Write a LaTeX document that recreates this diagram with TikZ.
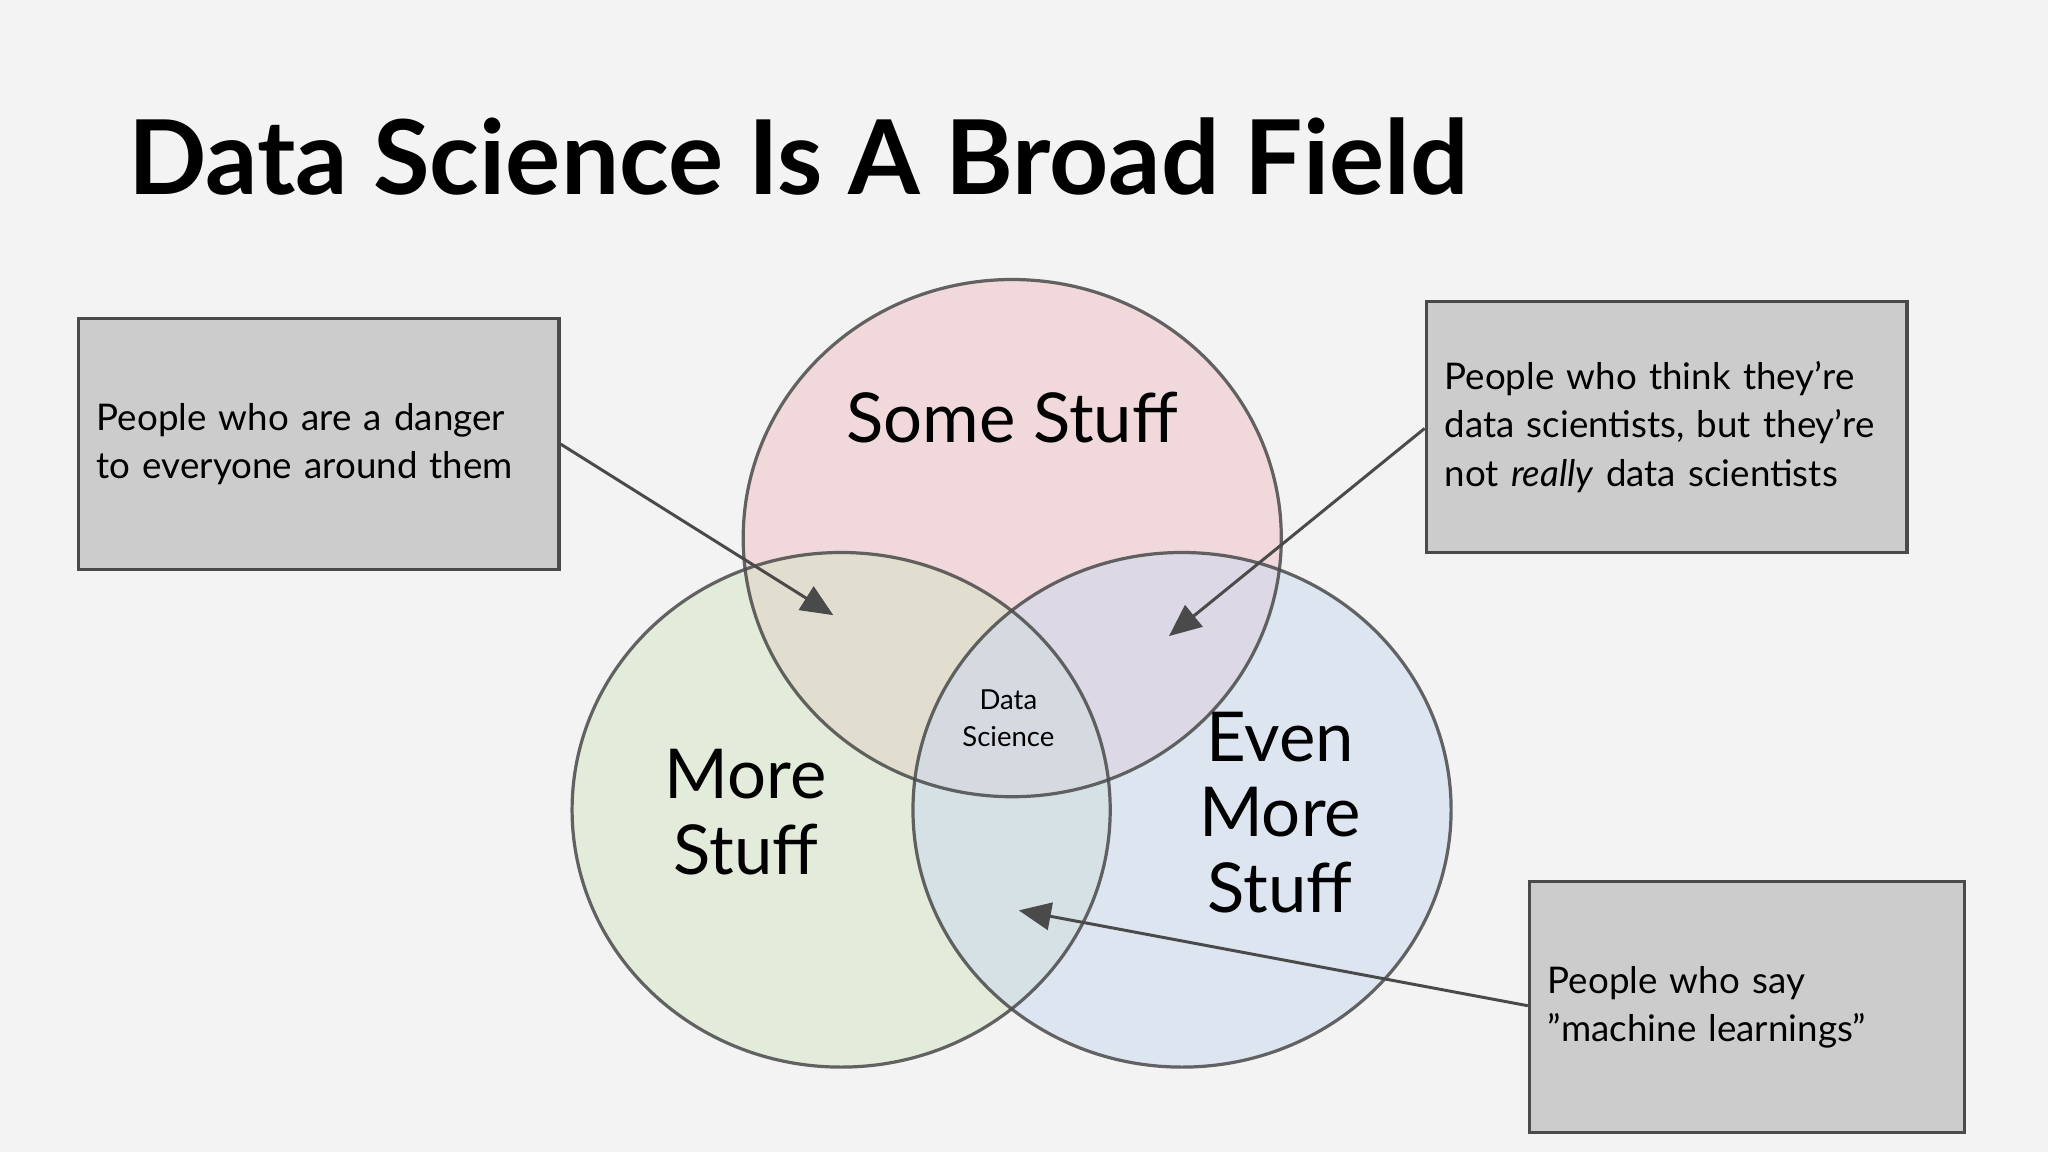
\documentclass[tikz,border=0pt]{standalone}
\usepackage{fontspec}
\setmainfont{Lato}
\usetikzlibrary{arrows.meta}
\definecolor{bg}{HTML}{F3F3F3}
\definecolor{edge}{HTML}{4A4A4A}
\definecolor{boxfill}{HTML}{CCCCCC}
\tikzset{
  venn/.style={draw=edge, line width=1.4pt, draw opacity=0.85},
  note/.style={draw=edge, fill=boxfill, line width=1.4pt, align=left, font=\fontsize{16}{21}\selectfont, text width=#1, inner sep=8pt, minimum height=3.84cm},
  ptr/.style={draw=edge, line width=1.3pt, -{Triangle[length=14pt,width=12pt]}},
  big/.style={font=\fontsize{30}{35}\selectfont, align=center}
}
\begin{document}
\begin{tikzpicture}[x=0.02cm,y=-0.02cm]
\fill[bg] (0,0) rectangle (1568,882);
\useasboundingbox (0,0) rectangle (1568,882);
\node[anchor=west, font=\fontsize{45}{52}\selectfont\bfseries] (title) at (92,120) {Data Science Is A Broad Field};
\fill[fill={rgb,255:red,240;green,190;blue,196}, fill opacity=0.5] (775,412) ellipse (206 and 198);
\fill[fill={rgb,255:red,212;green,228;blue,196}, fill opacity=0.5] (644,620) ellipse (206 and 197);
\fill[fill={rgb,255:red,200;green,216;blue,240}, fill opacity=0.5] (905,620) ellipse (206 and 197);
\draw[venn] (775,412) ellipse (206 and 198);
\draw[venn] (644,620) ellipse (206 and 197);
\draw[venn] (905,620) ellipse (206 and 197);
\node[big] (some) at (775,320) {Some Stuff};
\node[big] (more) at (571,622) {More\\[-2pt]Stuff};
\node[big] (even) at (980,622) {Even\\[-2pt]More\\[-2pt]Stuff};
\node[align=center, font=\fontsize{12}{16}\selectfont] (ds) at (772,550) {Data\\Science};
\node[note=6.8cm] (b1) at (244,340) {People who are a danger\\to everyone around them};
\node[note=6.8cm] (b2) at (1276,327) {People who think they're\\data scientists, but they're\\not \textit{really} data scientists};
\node[note=6.1cm] (b3) at (1337.5,771) {People who say\\\char34machine learnings\char34};
\coordinate (t1) at (638,471);
\coordinate (t2) at (895,487);
\coordinate (t3) at (780,697);
\draw[ptr] (b1.east |- 0,340) -- (t1);
\draw[ptr] (b2.west |- 0,328) -- (t2);
\draw[ptr] (b3.west |- 0,770) -- (t3);
\end{tikzpicture}
\end{document}
